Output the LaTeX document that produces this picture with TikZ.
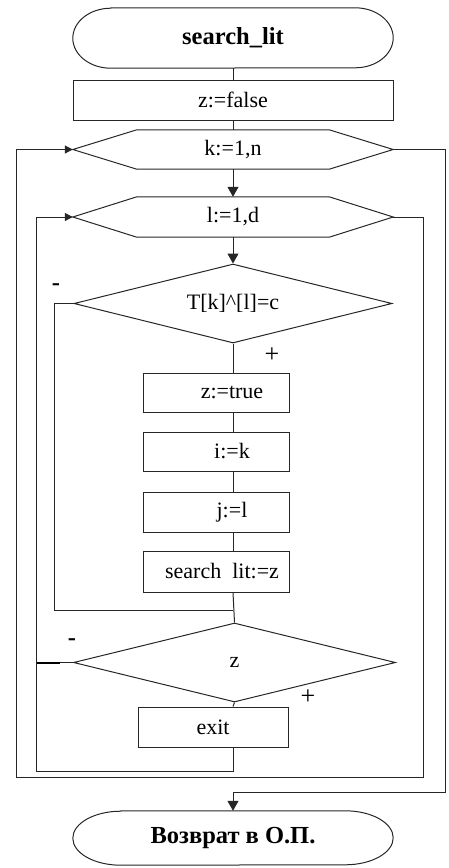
\documentclass[tikz,border=0pt]{standalone}
\usepackage{fontspec}
\setmainfont{Liberation Serif}
\usetikzlibrary{arrows.meta,shapes.geometric}

\begin{document}
\begin{tikzpicture}[x=1pt,y=-1pt,
  ln/.style={draw=black!85, line width=1pt},
  txt/.style={font=\fontsize{22}{26}\selectfont, inner sep=0pt},
  btxt/.style={font=\bfseries\fontsize{24.5}{28}\selectfont, inner sep=0pt},
  sign/.style={font=\fontsize{26}{28}\selectfont, inner sep=0pt},
  box/.style={ln, rectangle, inner sep=0pt, txt},
  frame/.style={inner sep=0pt, minimum width=320pt},
  cond/.style={diamond, ln, inner sep=0pt, aspect=4, txt},
  arr/.style={ln, -{Triangle[length=10pt,width=11pt]}},
  sarr/.style={ln, -{Triangle[length=8pt,width=8pt]}},
]
\useasboundingbox (0,0) rectangle (448,868);

% main column of the chart
\coordinate (spine) at (233,0);
\coordinate (innerx) at (36,0);

% start terminal
\node[frame, btxt, minimum height=60pt] (start) at (233,38) {search\_lit};
\draw[ln] ([xshift=38pt]start.north west) -- ([xshift=-38pt]start.north east)
  arc[start angle=-90,end angle=90,x radius=38,y radius=30]
  -- ([xshift=38pt]start.south west)
  arc[start angle=90,end angle=270,x radius=38,y radius=30] -- cycle;

\node[box, minimum width=320pt, minimum height=40pt] (zf) at (233,100) {z:=false};

% loop headers
\node[frame, txt, minimum height=39pt] (hk) at (233,149.5) {k:=1,n};
\draw[ln] (hk.west) -- ([xshift=64pt]hk.north west) -- ([xshift=-64pt]hk.north east)
  -- (hk.east) -- ([xshift=-64pt]hk.south east) -- ([xshift=64pt]hk.south west) -- cycle;

\node[frame, txt, minimum height=40pt] (hl) at (233,217) {l:=1,d};
\draw[ln] (hl.west) -- ([xshift=64pt]hl.north west) -- ([xshift=-64pt]hl.north east)
  -- (hl.east) -- ([xshift=-64pt]hl.south east) -- ([xshift=64pt]hl.south west) -- cycle;

% inner condition
\node[cond, minimum width=318pt, minimum height=79pt] (dT) at (233,303.5) {T[k]\textasciicircum[l]=c};

\node[box, minimum width=146pt, minimum height=39pt] (zt) at (216,392.5) {\hspace*{32pt}z:=true};
\node[box, minimum width=146pt, minimum height=39pt] (ik) at (216,451.5) {\hspace*{32pt}i:=k};
\node[box, minimum width=146pt, minimum height=40pt] (jl) at (216,512) {\hspace*{32pt}j:=l};
\node[box, minimum width=146pt, minimum height=41pt] (sl) at (216,571.5) {\hspace*{12pt}search\hspace{0.5em}lit:=z};

\coordinate (jn) at (233,610);

% outer condition
\node[cond, minimum width=322pt, minimum height=79pt] (dz) at (234.5,662.5) {z};
\node[box, minimum width=150pt, minimum height=40pt] (ex) at (213,727) {exit};

% end terminal
\node[frame, btxt, minimum height=54pt] (fin) at (233,838) {Возврат в О.П.};
\draw[ln] ([xshift=48pt]fin.north west) -- ([xshift=-48pt]fin.north east)
  arc[start angle=-90,end angle=90,x radius=48,y radius=27]
  -- ([xshift=48pt]fin.south west)
  arc[start angle=90,end angle=270,x radius=48,y radius=27] -- cycle;

% branch labels
\node[btxt] (mT) at (56,287) {-};
\node[sign] (pT) at (272,355) {+};
\node[btxt] (mz) at (72,642) {-};
\node[sign] (pz) at (308,697) {+};

% straight flow
\draw[ln] (start.south) -- (zf.north);
\draw[ln] (zf.south) -- (hk.north);
\draw[arr] (hk.south) -- (hl.north);
\draw[arr] (hl.south) -- (dT.north);
\draw[ln] (dT.south) -- (spine |- zt.north);
\draw[ln] (spine |- zt.south) -- (spine |- ik.north);
\draw[ln] (spine |- ik.south) -- (spine |- jl.north);
\draw[ln] (spine |- jl.south) -- (spine |- sl.north);
\draw[ln] (spine |- sl.south) -- (dz.north);
\draw[ln] (dz.south) -- (spine |- ex.north);

% "-" branch of the inner condition
\draw[ln] (dT.west) -- ++(-19,0) |- (jn);

% "-" branch of the outer condition
\draw[ln] (dz.west) -- (dz.west -| innerx);
\draw[draw=black, line width=2pt] (dz.west -| innerx) -- ++(24,0);

% return of the inner loop
\coordinate (lb) at (36,771);
\draw[sarr] (spine |- ex.south) |- (lb) |- (hl.west);

% exit of the inner loop back to the outer loop
\coordinate (lr) at (423,777);
\coordinate (kb) at (16,777);
\draw[sarr] (hl.east) -| (lr) -- (kb) |- (hk.west);

% exit of the outer loop
\coordinate (kr) at (445,792);
\draw[arr] (hk.east) -| (kr) -| (fin.north);
\end{tikzpicture}
\end{document}
